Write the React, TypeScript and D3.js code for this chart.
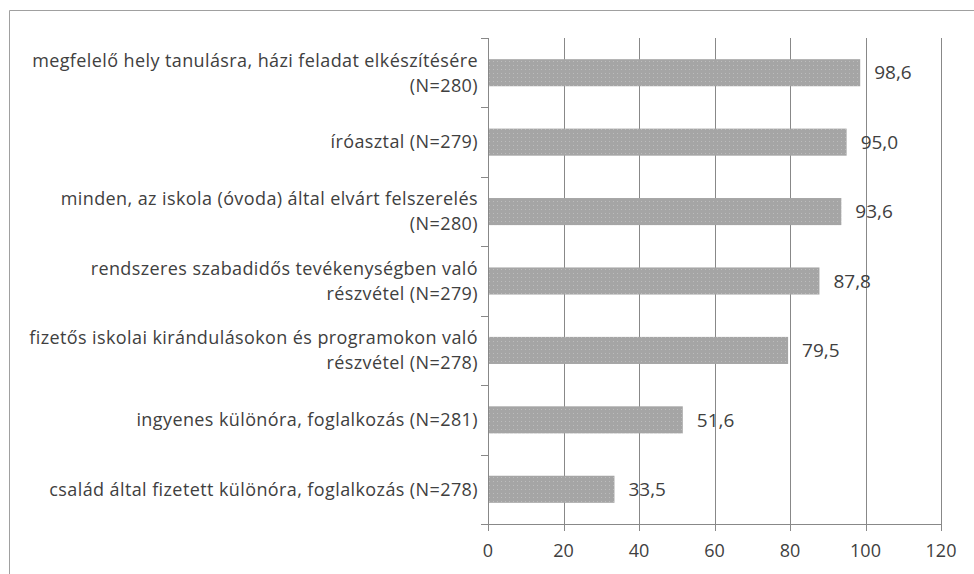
import React from "react";
import * as d3 from "d3";

const categories: string[][] = [
  ["megfelelő hely tanulásra, házi feladat elkészítésére", "(N=280)"],
  ["íróasztal (N=279)"],
  ["minden, az iskola (óvoda) által elvárt felszerelés", "(N=280)"],
  ["rendszeres szabadidős tevékenységben való", "részvétel (N=279)"],
  ["fizetős iskolai kirándulásokon és programokon való", "részvétel (N=278)"],
  ["ingyenes különóra, foglalkozás (N=281)"],
  ["család által fizetett különóra, foglalkozás (N=278)"],
];
const values: number[] = [98.6, 95.0, 93.6, 87.8, 79.5, 51.6, 33.5];
const xTicks: number[] = [0, 20, 40, 60, 80, 100, 120];

const W = 974;
const H = 574;
const left = 488;
const right = 941;
const top = 38;
const bottom = 524;
const FONT = "'Open Sans', 'DejaVu Sans', sans-serif";
const TEXT = "#404040";
const GRID = "#888888";

export default function App() {
  const x = d3.scaleLinear().domain([0, 120]).range([left, right]);
  const idx = categories.map((_, i) => String(i));
  const y = d3.scaleBand().domain(idx).range([top, bottom]).paddingInner(0.61).paddingOuter(0.305);
  const step = (bottom - top) / categories.length;
  const fmt = (v: number) => v.toFixed(1).replace(".", ",");

  return (
    <svg
      width={W}
      height={H}
      style={{ position: "absolute", left: 0, top: 0, background: "#fff" }}
    >
      <defs>
        <pattern id="dots" width="4" height="4" patternUnits="userSpaceOnUse">
          <rect width="4" height="4" fill="#a5a5a5" />
          <rect x="1" y="1" width="1" height="1" fill="#bcbcbc" />
        </pattern>
      </defs>
      {/* frame */}
      <line x1={9.5} y1={10.5} x2={W} y2={10.5} stroke="#a0a0a0" />
      <line x1={9.5} y1={10.5} x2={9.5} y2={H} stroke="#a0a0a0" />

      {/* gridlines */}
      {xTicks.slice(1).map((t) => (
        <line key={"g" + t} x1={Math.round(x(t)) + 0.5} x2={Math.round(x(t)) + 0.5} y1={top} y2={bottom} stroke={GRID} />
      ))}

      {/* bars */}
      {values.map((v, i) => (
        <rect
          key={"b" + i}
          x={x(0)}
          y={y(String(i))!}
          width={x(v) - x(0)}
          height={y.bandwidth()}
          fill="url(#dots)"
        />
      ))}

      {/* y axis */}
      <line x1={left + 0.5} x2={left + 0.5} y1={top} y2={bottom} stroke={GRID} />
      {d3.range(categories.length + 1).map((k) => (
        <line key={"yt" + k} x1={left - 7} x2={left} y1={Math.round(top + k * step) + 0.5} y2={Math.round(top + k * step) + 0.5} stroke={GRID} />
      ))}

      {/* x axis */}
      <line x1={left - 7} x2={right} y1={bottom + 0.5} y2={bottom + 0.5} stroke={GRID} />
      {xTicks.map((t) => (
        <line key={"xt" + t} x1={Math.round(x(t)) + 0.5} x2={Math.round(x(t)) + 0.5} y1={bottom} y2={bottom + 7} stroke={GRID} />
      ))}
      {xTicks.map((t) => (
        <text key={"xl" + t} x={x(t)} y={557} textAnchor="middle" fontFamily={FONT} fontSize={18} fill={TEXT}>
          {t}
        </text>
      ))}

      {/* category labels */}
      {categories.map((lines, i) => {
        const cy = y(String(i))! + y.bandwidth() / 2;
        const lh = 25;
        const y0 = cy - ((lines.length - 1) * lh) / 2;
        return (
          <text key={"c" + i} textAnchor="end" fontFamily={FONT} fontSize={18} letterSpacing={0.4} fill={TEXT}>
            {lines.map((ln, j) => (
              <tspan key={j} x={478} y={y0 + j * lh} dy="0.35em">
                {ln}
              </tspan>
            ))}
          </text>
        );
      })}

      {/* value labels */}
      {values.map((v, i) => (
        <text
          key={"v" + i}
          x={x(v) + 14}
          y={y(String(i))! + y.bandwidth() / 2}
          dy="0.35em"
          fontFamily={FONT}
          fontSize={19}
          fill={TEXT}
        >
          {fmt(v)}
        </text>
      ))}
    </svg>
  );
}
